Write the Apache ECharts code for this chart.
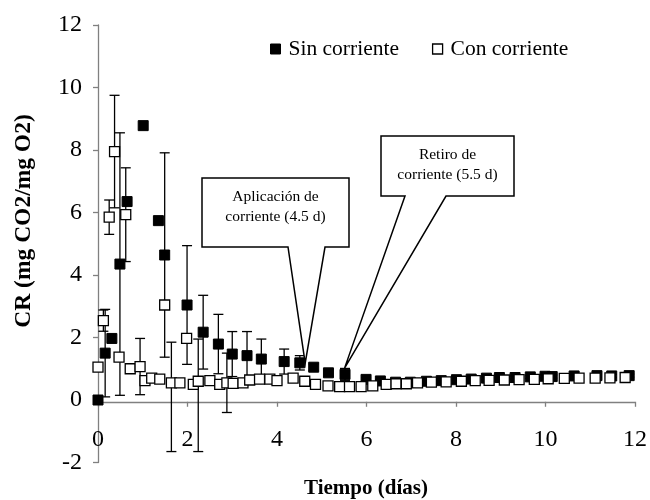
<!DOCTYPE html>
<html>
<head>
<meta charset="utf-8">
<script src="https://cdn.jsdelivr.net/npm/echarts@6/dist/echarts.min.js"></script>
<style>
  html, body { margin: 0; padding: 0; background: #fff; }
  #chart { width: 650px; height: 500px; }
</style>
</head>
<body>
<div id="chart"></div>
<script>
// Tiempo (días), CR promedio y desviación — sin corriente
const sinX = [0, 0.16, 0.31, 0.49, 0.65, 1.01, 1.35, 1.49, 1.99, 2.35, 2.69, 3.0, 3.33, 3.65, 4.16, 4.51, 4.82, 5.15, 5.52,
  5.99, 6.31, 6.65, 6.98, 7.34, 7.67, 8.01, 8.34, 8.68, 8.97, 9.32, 9.66, 9.99, 10.15, 10.64, 11.15, 11.48, 11.87];
const sinY = [0, 1.5, 1.97, 4.35, 6.35, 8.78, 5.74, 4.64, 3.04, 2.17, 1.79, 1.47, 1.42, 1.31, 1.23, 1.19, 1.05, 0.87, 0.82,
  0.66, 0.61, 0.57, 0.57, 0.6, 0.62, 0.65, 0.67, 0.7, 0.72, 0.72, 0.74, 0.76, 0.75, 0.77, 0.78, 0.77, 0.78];
const sinErrUp = [0, 1.4, 0, 4.2, 0, 0, 0, 3.27, 1.9, 1.18, 0.95, 0.72, 0.77, 0.64, 0.4, 0.23, 0.1, 0.1, 0.19,
  0.06, 0.05, 0.05, 0.05, 0.05, 0.05, 0.05, 0.05, 0.05, 0.05, 0.05, 0.05, 0.05, 0.05, 0.05, 0.05, 0.05, 0.05];
const sinErrDown = sinErrUp.slice();

// Con corriente
const conX = [0, 0.12, 0.25, 0.37, 0.47, 0.62, 0.72, 0.94, 1.05, 1.2, 1.38, 1.49, 1.64, 1.83, 1.98, 2.13, 2.24, 2.5, 2.72,
  2.88, 3.02, 3.24, 3.39, 3.61, 3.84, 4.0, 4.36, 4.62, 4.86, 5.14, 5.4, 5.62, 5.88, 6.14, 6.44, 6.66, 6.89,
  7.14, 7.45, 7.78, 8.12, 8.43, 8.74, 9.08, 9.41, 9.75, 10.06, 10.42, 10.75, 11.11, 11.44, 11.78];
const conY = [1.05, 2.54, 5.85, 7.95, 1.37, 5.93, 1.0, 1.07, 0.62, 0.7, 0.67, 3.04, 0.55, 0.55, 1.97, 0.5, 0.6, 0.62, 0.5,
  0.55, 0.53, 0.55, 0.64, 0.67, 0.67, 0.62, 0.7, 0.6, 0.5, 0.45, 0.43, 0.43, 0.43, 0.45, 0.5, 0.52, 0.52,
  0.55, 0.57, 0.58, 0.6, 0.62, 0.63, 0.64, 0.65, 0.66, 0.68, 0.69, 0.7, 0.7, 0.71, 0.72];
const conErrUp = [0.1, 0.34, 0.55, 1.8, 0, 1.5, 0, 0.9, 0, 0, 0, 0, 1.3, 0, 0, 0, 1.35, 0, 0,
  0.95, 0, 0, 0, 0, 0, 0, 0, 0, 0, 0, 0, 0, 0, 0, 0, 0, 0,
  0, 0, 0, 0, 0, 0, 0, 0, 0, 0, 0, 0, 0, 0, 0];
const conErrDown = [0.1, 0.34, 0.55, 1.8, 0, 1.5, 0, 0.9, 0, 0, 0, 0, 2.2, 0, 0, 0, 2.25, 0, 0,
  0.95, 0, 0, 0, 0, 0, 0, 0, 0, 0, 0, 0, 0, 0, 0, 0, 0, 0,
  0, 0, 0, 0, 0, 0, 0, 0, 0, 0, 0, 0, 0, 0, 0];

const yTicks = [-2, 0, 2, 4, 6, 8, 10, 12];
const xTicks = [0, 2, 4, 6, 8, 10, 12];

const FONT = '"Liberation Serif", "DejaVu Serif", serif';

function toData(xs, ys, up, down) {
  return xs.map((x, i) => [x, ys[i], up[i], down[i]]);
}

// Vertical error bar with caps
function errorBar(params, api) {
  const x = api.value(0), y = api.value(1), eu = api.value(2), ed = api.value(3);
  if (!eu && !ed) return null;
  const top = api.coord([x, y + eu]);
  const bot = api.coord([x, y - ed]);
  const hw = 5;
  const st = { stroke: '#000', lineWidth: 1.3 };
  return {
    type: 'group',
    children: [
      { type: 'line', shape: { x1: top[0], y1: top[1], x2: bot[0], y2: bot[1] }, style: st },
      { type: 'line', shape: { x1: top[0] - hw, y1: top[1], x2: top[0] + hw, y2: top[1] }, style: st },
      { type: 'line', shape: { x1: bot[0] - hw, y1: bot[1], x2: bot[0] + hw, y2: bot[1] }, style: st }
    ]
  };
}

const filledStyle = { color: '#000', borderColor: '#000', borderWidth: 1, opacity: 1 };
const openStyle = { color: '#fff', borderColor: '#000', borderWidth: 1.3, opacity: 1 };

const chart = echarts.init(document.getElementById('chart'), null, { renderer: 'canvas' });

const option = {
  animation: false,
  backgroundColor: '#fff',
  grid: { left: 98, right: 14, top: 25, bottom: 37.5, containLabel: false },
  legend: {
    data: [
      { name: 'Sin corriente', itemStyle: filledStyle },
      { name: 'Con corriente', itemStyle: openStyle }
    ],
    left: 265, top: 33,
    icon: 'rect', itemWidth: 10, itemHeight: 10, itemGap: 33,
    textStyle: { fontFamily: FONT, fontSize: 21.5, color: '#000', padding: [0, 0, 0, 3] }
  },
  xAxis: {
    type: 'value', min: xTicks[0], max: xTicks[xTicks.length - 1], interval: 2,
    position: 'bottom',
    axisLine: { onZero: false, lineStyle: { color: '#808080', width: 1.3 } },
    axisTick: { show: true, length: 5, lineStyle: { color: '#808080', width: 1.3 } },
    axisLabel: { margin: 26, fontFamily: FONT, fontSize: 24, color: '#000' },
    splitLine: { show: false }
  },
  yAxis: {
    type: 'value', min: yTicks[0], max: yTicks[yTicks.length - 1], interval: 2,
    axisLine: { show: true, onZero: false, lineStyle: { color: '#808080', width: 1.3 } },
    axisTick: { show: true, length: 5, lineStyle: { color: '#808080', width: 1.3 } },
    axisLabel: { margin: 16, fontFamily: FONT, fontSize: 24, color: '#000' },
    splitLine: { show: false }
  },
  series: [
    {
      name: 'Sin corriente', type: 'custom', renderItem: errorBar,
      data: toData(sinX, sinY, sinErrUp, sinErrDown), z: 2, silent: true,
      itemStyle: filledStyle, encode: { x: 0, y: 1 }
    },
    {
      name: 'Sin corriente', type: 'scatter', symbol: 'rect', symbolSize: 10,
      data: toData(sinX, sinY, sinErrUp, sinErrDown), z: 3, itemStyle: filledStyle
    },
    {
      name: 'Con corriente', type: 'custom', renderItem: errorBar,
      data: toData(conX, conY, conErrUp, conErrDown), z: 4, silent: true,
      itemStyle: openStyle, encode: { x: 0, y: 1 }
    },
    {
      name: 'Con corriente', type: 'scatter', symbol: 'rect', symbolSize: 10,
      data: toData(conX, conY, conErrUp, conErrDown), z: 5, itemStyle: openStyle
    }
  ]
};

chart.setOption(option);

// The time axis crosses the value axis at CR = 0
const zeroPx = chart.convertToPixel({ yAxisIndex: 0 }, 0);
const bottomPx = chart.convertToPixel({ yAxisIndex: 0 }, yTicks[0]);
chart.setOption({ xAxis: { offset: zeroPx - bottomPx } });

// Callout boxes pointing at the moments the current was applied / removed
function callout(box, baseL, baseR, tipData, lines) {
  const tip = chart.convertToPixel({ gridIndex: 0 }, tipData);
  const [x0, y0, x1, y1] = box;
  const pts = [[x0, y0], [x1, y0], [x1, y1], [baseR, y1], tip, [baseL, y1], [x0, y1]];
  return [
    {
      type: 'polygon', shape: { points: pts }, z: 20,
      style: { fill: '#fff', stroke: '#000', lineWidth: 1.5 }
    },
    {
      type: 'text', z: 21,
      x: (x0 + x1) / 2, y: y0 + 9,
      style: {
        text: lines.join('\n'), fontFamily: FONT, fontSize: 15.5, lineHeight: 20,
        fill: '#000', align: 'center', verticalAlign: 'top'
      }
    }
  ];
}

const graphics = []
  .concat(callout([202, 178, 349, 247], 288, 325, [4.63, 1.18], ['Aplicación de', 'corriente (4.5 d)']))
  .concat(callout([381, 136, 514, 196], 405, 446, [5.51, 1.02], ['Retiro de', 'corriente (5.5 d)']))
  .concat([
    {
      type: 'text', z: 10, x: 24, y: 221, rotation: Math.PI / 2,
      style: {
        text: 'CR (mg CO2/mg O2)', fontFamily: FONT, fontSize: 23.5, fontWeight: 'bold',
        fill: '#000', align: 'center', verticalAlign: 'middle'
      }
    },
    {
      type: 'text', z: 10, x: 366, y: 489,
      style: {
        text: 'Tiempo (días)', fontFamily: FONT, fontSize: 21, fontWeight: 'bold',
        fill: '#000', align: 'center', verticalAlign: 'middle'
      }
    }
  ]);

chart.setOption({ graphic: graphics });
</script>
</body>
</html>
